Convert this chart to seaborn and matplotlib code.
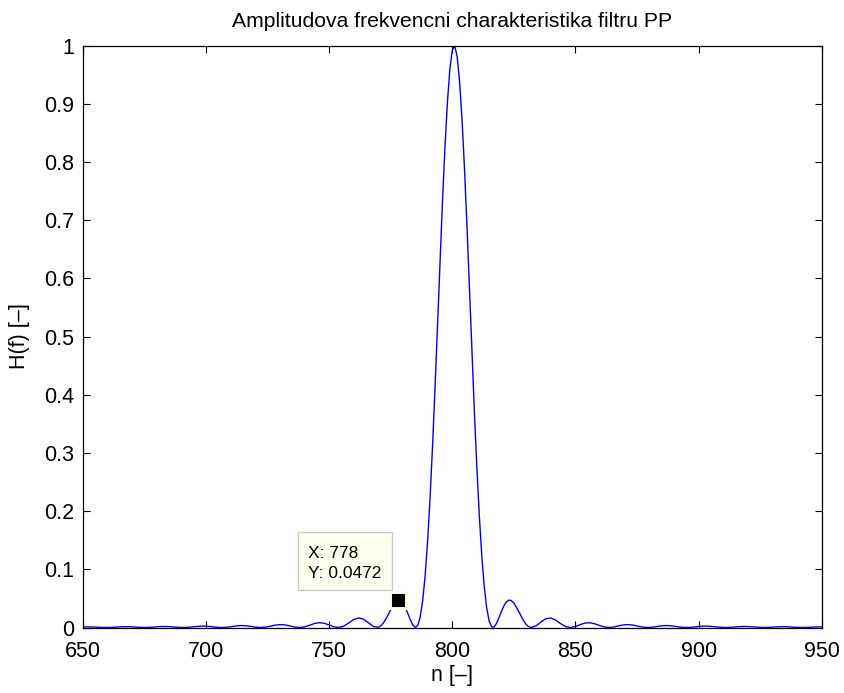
import matplotlib
matplotlib.use("Agg")
import matplotlib.pyplot as plt
import seaborn as sns
import pandas as pd
from matplotlib.patches import Rectangle

# ---- data ----
n_left = list(range(650, 770, 2))
h_left = [0.00099, 0.00112, 0.00091, 0.00048, 0.00010, 0.00002, 0.00031, 0.00084,
          0.00129, 0.00139, 0.00107, 0.00052, 0.00008, 0.00005, 0.00049, 0.00117,
          0.00170, 0.00176, 0.00129, 0.00057, 0.00006, 0.00011, 0.00076, 0.00168,
          0.00232, 0.00230, 0.00160, 0.00064, 0.00003, 0.00024, 0.00123, 0.00249,
          0.00330, 0.00314, 0.00207, 0.00073, 0.00001, 0.00049, 0.00207, 0.00392,
          0.00498, 0.00457, 0.00285, 0.00088, 0.00000, 0.00106, 0.00377, 0.00677,
          0.00832, 0.00737, 0.00436, 0.00114, 0.00005, 0.00250, 0.00790, 0.01365,
          0.01646, 0.01431, 0.00810, 0.00174]

n_mid = list(range(770, 833))
h_mid = [0.00040, 0.00284, 0.00753, 0.01417, 0.02214, 0.03052, 0.03821, 0.04404,
         0.04720, 0.04630, 0.04185, 0.03400, 0.02377, 0.01303, 0.00416, 0.00003,
         0.00372, 0.01821, 0.04605, 0.08903, 0.1481, 0.2228, 0.3113, 0.4108,
         0.5169, 0.6246, 0.7282, 0.8217, 0.8998, 0.9577, 0.9915, 1.0000, 0.9809,
         0.9370, 0.8708, 0.7858, 0.6877, 0.5818, 0.4741, 0.3700, 0.2743, 0.1912,
         0.1226, 0.06996, 0.03317, 0.01094, 0.00111, 0.00092, 0.00731, 0.01724,
         0.02804, 0.03749, 0.04412, 0.04707, 0.04621, 0.04199, 0.03527, 0.02720,
         0.01884, 0.01131, 0.00539, 0.00159, 0.00005]

n_right = list(range(834, 951, 2))
h_right = [0.00277, 0.00951, 0.01515, 0.01626, 0.01265, 0.00669, 0.00172, 0.00000,
           0.00168, 0.00505, 0.00776, 0.00819, 0.00623, 0.00315, 0.00069, 0.00003,
           0.00122, 0.00325, 0.00477, 0.00488, 0.00358, 0.00170, 0.00029, 0.00007,
           0.00098, 0.00233, 0.00325, 0.00320, 0.00225, 0.00099, 0.00012, 0.00010,
           0.00082, 0.00178, 0.00236, 0.00224, 0.00150, 0.00060, 0.00005, 0.00012,
           0.00071, 0.00142, 0.00179, 0.00163, 0.00103, 0.00037, 0.00001, 0.00014,
           0.00063, 0.00116, 0.00140, 0.00122, 0.00073, 0.00023, 0.00000, 0.00016,
           0.00057, 0.00097, 0.00112]

tip_x = 778
tip_y = 0.0472

x_ticks = [650, 700, 750, 800, 850, 900, 950]
y_ticks = [0, 0.1, 0.2, 0.3, 0.4, 0.5, 0.6, 0.7, 0.8, 0.9, 1]
y_tick_labels = ["0", "0.1", "0.2", "0.3", "0.4", "0.5", "0.6", "0.7", "0.8", "0.9", "1"]

title = "Amplitudova frekvencni charakteristika filtru PP"
xlabel = "n [\u2013]"
ylabel = "H(f) [\u2013]"

# ---- plotting ----
sns.set_theme(style="white")
plt.rcParams["font.family"] = ["Liberation Sans", "DejaVu Sans"]
plt.rcParams["text.color"] = "black"
plt.rcParams["axes.labelcolor"] = "black"
FS = 15.5

df = pd.DataFrame({"n": n_left + n_mid + n_right, "H": h_left + h_mid + h_right})

fig = plt.figure(figsize=(8.45, 6.93), dpi=100)
fig.patch.set_facecolor("white")
ax = fig.add_axes([0.0979, 0.0945, 0.8746, 0.8398])

sns.lineplot(data=df, x="n", y="H", ax=ax, color="#0000FF", linewidth=1.0,
             estimator=None, sort=False)

ax.set_xlim(650, 950)
ax.set_ylim(0, 1)
ax.set_xticks(x_ticks)
ax.set_xticklabels([str(v) for v in x_ticks], fontsize=FS, color="black")
ax.set_yticks(y_ticks)
ax.set_yticklabels(y_tick_labels, fontsize=FS, color="black")
ax.tick_params(direction="in", length=5, width=0.8, colors="black",
               top=True, right=True, bottom=True, left=True)
ax.tick_params(axis="x", pad=10)
ax.tick_params(axis="y", pad=6)
for s in ax.spines.values():
    s.set_visible(True)
    s.set_color("black")
    s.set_linewidth(0.9)
ax.grid(False)
ax.set_facecolor("white")

ax.set_title(title, fontsize=15.2, pad=13, color="black")
ax.set_xlabel(xlabel, fontsize=FS, labelpad=2, color="black")
ax.set_ylabel(ylabel, fontsize=FS, labelpad=10, color="black")

# data tip
ax.add_patch(Rectangle((737.4, 0.0644), 38.2, 0.0997, facecolor="#FFFFEE",
                       edgecolor="#CCCCCC", linewidth=1.0, zorder=5, clip_on=False))
ax.text(741.5, 0.1186, "X: %d" % tip_x, fontsize=12.5, color="black", zorder=6)
ax.text(741.5, 0.0851, "Y: %s" % tip_y, fontsize=12.5, color="black", zorder=6)
ax.plot([tip_x], [tip_y], marker="s", markersize=12.2, markerfacecolor="black",
        markeredgecolor="#FFFFE6", markeredgewidth=2.1, zorder=7, clip_on=False)

fig.savefig("out.png", dpi=100, facecolor="white")
